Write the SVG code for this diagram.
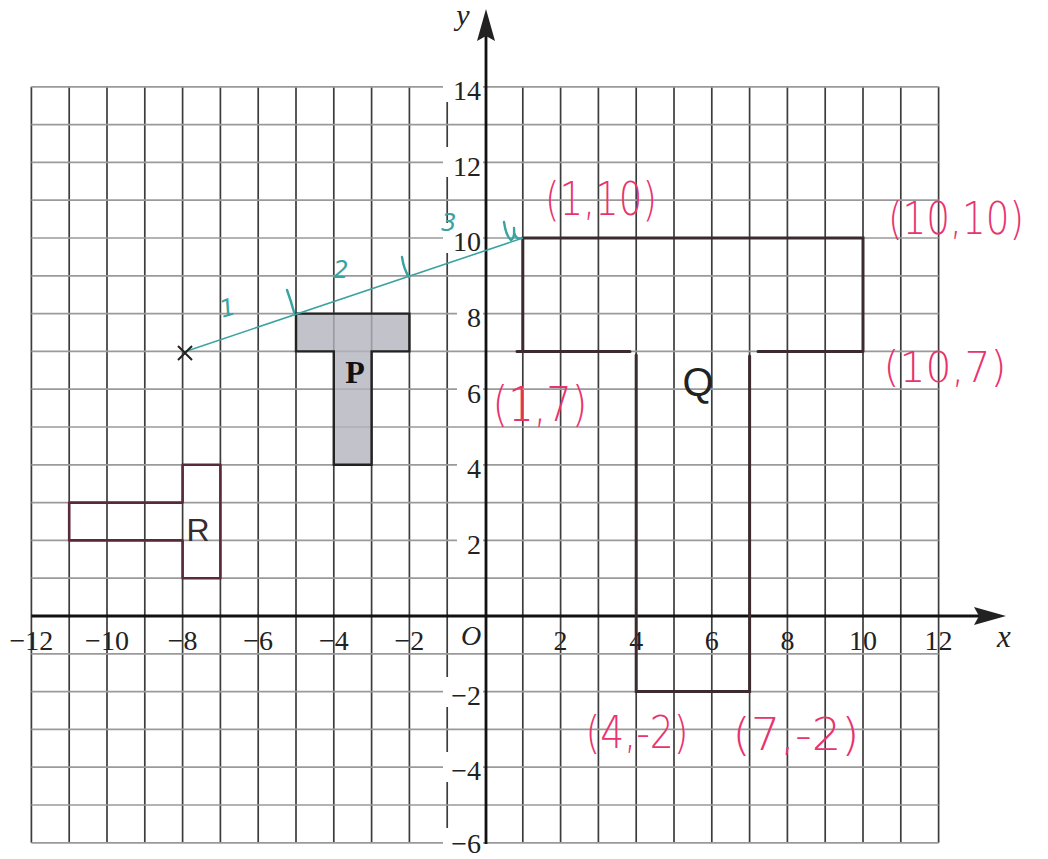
<svg xmlns="http://www.w3.org/2000/svg" width="1048" height="859" viewBox="0 0 1048 859">
<style>
.vg{stroke:#3c3c3c;stroke-width:1.7;fill:none}
.hg{stroke:#9a9a9a;stroke-width:1.7;fill:none}
.ko{fill:#ffffff}
.ax{stroke:#111;stroke-width:2.8;fill:none}
.ah{fill:#222}
.yl{font-family:"Liberation Serif",serif;font-size:28px;fill:#222;text-anchor:end}
.xl{font-family:"Liberation Serif",serif;font-size:28px;fill:#222;text-anchor:middle}
.it{font-family:"Liberation Serif",serif;font-style:italic;fill:#222;text-anchor:middle}
.shp{fill:none;stroke:#3b2a2e;stroke-width:3;stroke-linecap:round}
.rsh{fill:none;stroke:#5a2a38;stroke-width:2.6;stroke-linejoin:round}
.pk{font-family:"DejaVu Sans","Liberation Sans",sans-serif;font-weight:200;fill:#e8336e;text-anchor:middle}
.tl{font-family:"DejaVu Sans","Liberation Sans",sans-serif;font-style:italic;fill:#3aa3a0;font-size:24px;text-anchor:middle}
.tk{fill:none;stroke:#3aa3a0;stroke-width:2.4;stroke-linecap:round}
</style>
<rect width="1048" height="859" fill="#fff"/>
<g id="grid">
<path class="vg" d="M31.4,86.8V842.8M69.2,86.8V842.8M107,86.8V842.8M144.8,86.8V842.8M182.6,86.8V842.8M220.4,86.8V842.8M258.2,86.8V842.8M296,86.8V842.8M333.8,86.8V842.8M371.6,86.8V842.8M409.4,86.8V842.8M447.2,86.8V842.8M522.8,86.8V842.8M560.6,86.8V842.8M598.4,86.8V842.8M636.2,86.8V842.8M674,86.8V842.8M711.8,86.8V842.8M749.6,86.8V842.8M787.4,86.8V842.8M825.2,86.8V842.8M863,86.8V842.8M900.8,86.8V842.8M938.6,86.8V842.8"/>
<path class="hg" d="M31.4,86.8H938.6M31.4,124.6H938.6M31.4,162.4H938.6M31.4,200.2H938.6M31.4,238H938.6M31.4,275.8H938.6M31.4,313.6H938.6M31.4,351.4H938.6M31.4,389.2H938.6M31.4,427H938.6M31.4,464.8H938.6M31.4,502.6H938.6M31.4,540.4H938.6M31.4,578.2H938.6M31.4,653.8H938.6M31.4,691.6H938.6M31.4,729.4H938.6M31.4,767.2H938.6M31.4,805H938.6M31.4,842.8H938.6"/>
<rect class="ko" x="443" y="72" width="40" height="30"/>
<rect class="ko" x="443" y="147" width="40" height="30"/>
<rect class="ko" x="443" y="223" width="40" height="30"/>
<rect class="ko" x="457" y="299" width="26" height="30"/>
<rect class="ko" x="457" y="375" width="26" height="30"/>
<rect class="ko" x="457" y="450" width="26" height="30"/>
<rect class="ko" x="457" y="526" width="26" height="30"/>
<rect class="ko" x="443" y="677" width="40" height="30"/>
<rect class="ko" x="443" y="752" width="40" height="30"/>
<rect class="ko" x="443" y="828" width="40" height="30"/>
</g>
<g id="axes">
<path class="ax" d="M31.4,616H985"/>
<path class="ax" d="M486,844V30"/>
<path class="ah" d="M1006,616L974,607L979,616L974,625Z"/>
<path class="ah" d="M486,9L477,41L486,36L495,41Z"/>
<text class="it" x="463" y="25" font-size="30">y</text>
<text class="it" x="1004" y="647" font-size="31">x</text>
<text class="it" x="471" y="645" font-size="28">O</text>
</g>
<g id="y-labels">
<text class="yl" x="481" y="100">14</text>
<text class="yl" x="481" y="176">12</text>
<text class="yl" x="481" y="251">10</text>
<text class="yl" x="481" y="327">8</text>
<text class="yl" x="481" y="403">6</text>
<text class="yl" x="481" y="478">4</text>
<text class="yl" x="481" y="554">2</text>
<text class="yl" x="481" y="705">−2</text>
<text class="yl" x="481" y="780">−4</text>
<text class="yl" x="481" y="853">−6</text>
</g>
<g id="x-labels">
<text class="xl" x="31.4" y="650">−12</text>
<text class="xl" x="107" y="650">−10</text>
<text class="xl" x="182.6" y="650">−8</text>
<text class="xl" x="258.2" y="650">−6</text>
<text class="xl" x="333.8" y="650">−4</text>
<text class="xl" x="409.4" y="650">−2</text>
<text class="xl" x="560.6" y="650">2</text>
<text class="xl" x="636.2" y="650">4</text>
<text class="xl" x="711.8" y="650">6</text>
<text class="xl" x="787.4" y="650">8</text>
<text class="xl" x="863" y="650">10</text>
<text class="xl" x="938.6" y="650">12</text>
</g>
<g id="shape-P">
<path d="M296,313.6H409.4V351.4H371.6V464.8H333.8V351.4H296Z" fill="#b3b3bd" fill-opacity="0.8" stroke="#222" stroke-width="2.4"/>
<text x="355" y="383" font-family="Liberation Serif,serif" font-weight="bold" font-size="32" fill="#111" text-anchor="middle">P</text>
</g>
<g id="shape-R">
<path class="rsh" d="M69.2,502.6H182.6V464.8H220.4V578.2H182.6V540.4H69.2Z"/>
<text x="198" y="541" font-family="Liberation Sans,sans-serif" font-size="32" fill="#3a2a30" text-anchor="middle">R</text>
</g>
<g id="shape-Q">
<path class="shp" d="M522.8,238H863V351.4M758,351.4H863M749.6,356V691.6H636.2V355M517,351.4H630M522.8,238V351.4"/>
<text x="698" y="396" font-family="Liberation Sans,sans-serif" font-size="40" fill="#222" text-anchor="middle">Q</text>
</g>
<g id="enlargement-ray">
<path d="M184,352L522.8,238" stroke="#3aa3a0" stroke-width="1.6" fill="none"/>
<path d="M178,346L192,360M192,346L178,360" stroke="#222" stroke-width="2" fill="none"/>
<path class="tk" d="M287,290Q291,301 294,312M402,257Q404,270 409,277M504,222Q506,236 511,240Q515,238 514,228M514,232Q516,240 521,238"/>
<text class="tl" x="227" y="316" transform="rotate(-15 227 306)">1</text>
<text class="tl" x="341" y="278">2</text>
<text class="tl" x="449" y="231">3</text>
</g>
<g id="coordinates">
<text class="pk" x="601" y="215" font-size="46" textLength="112" lengthAdjust="spacingAndGlyphs">(1,10)</text>
<text class="pk" x="956" y="234" font-size="44" textLength="136" lengthAdjust="spacingAndGlyphs">(10,10)</text>
<text class="pk" x="945" y="382" font-size="42" textLength="123" lengthAdjust="spacingAndGlyphs">(10,7)</text>
<text class="pk" x="540" y="421" font-size="48" textLength="95" lengthAdjust="spacingAndGlyphs">(1,7)</text>
<text class="pk" x="637" y="748" font-size="44" textLength="103" lengthAdjust="spacingAndGlyphs">(4,-2)</text>
<text class="pk" x="796" y="750" font-size="44" textLength="127" lengthAdjust="spacingAndGlyphs">(7,-2)</text>
</g>
</svg>
